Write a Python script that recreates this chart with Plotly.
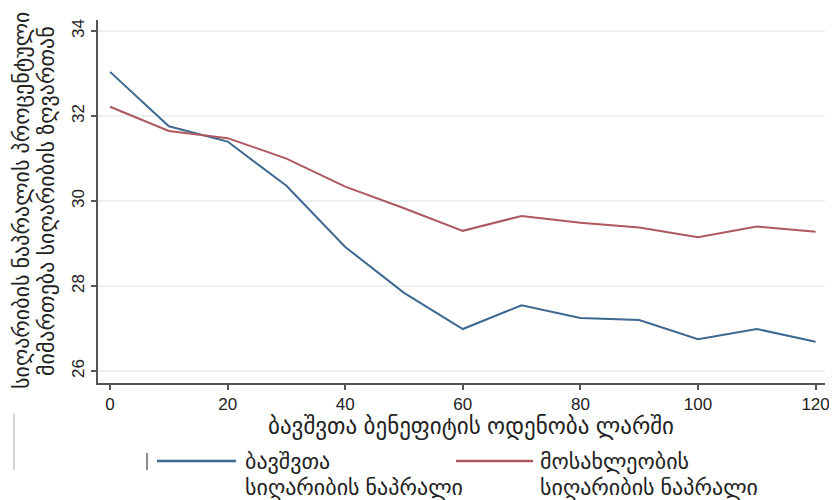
import plotly.graph_objects as go

# Data
benefit = [0, 10, 20, 30, 40, 50, 60, 70, 80, 90, 100, 110, 120]
child_gap = [33.04, 31.76, 31.40, 30.36, 28.92, 27.84, 26.99, 27.55, 27.25, 27.20, 26.75, 26.99, 26.69]
pop_gap = [32.22, 31.65, 31.48, 31.00, 30.34, 29.83, 29.30, 29.65, 29.49, 29.38, 29.15, 29.40, 29.28]
series_names = [["ბავშვთა", "სიღარიბის ნაპრალი"], ["მოსახლეობის", "სიღარიბის ნაპრალი"]]
x_title = "ბავშვთა ბენეფიტის ოდენობა ლარში"
y_title = ["სიღარიბის ნაპრალის პროცენტული", "მიმართება სიღარიბის ზღვართან"]
x_ticks = [0, 20, 40, 60, 80, 100, 120]
y_ticks = [26, 28, 30, 32, 34]

BLUE = "#3d6890"
RED = "#ad5860"
FONT = "Liberation Sans, DejaVu Sans, sans-serif"

OFF = 8  # page body margin
W, H = 837 - 2 * OFF, 500 - OFF
# plot area in page pixels
L, R, T, B = 98, 825, 20, 383


def px(x):
    return (x - L) / (R - L)


def py(y):
    return (B - y) / (B - T)


fig = go.Figure()
fig.add_trace(go.Scatter(x=benefit, y=child_gap, mode="lines",
                         line=dict(color=BLUE, width=2), showlegend=False))
fig.add_trace(go.Scatter(x=benefit, y=pop_gap, mode="lines",
                         line=dict(color=RED, width=2), showlegend=False))

shapes = []
annotations = []
# legend keys
for (x0, x1, col, tx, name) in [(157, 236, BLUE, 243, series_names[0]),
                                (456, 533, RED, 538, series_names[1])]:
    shapes.append(dict(type="line", xref="paper", yref="paper",
                       x0=px(x0), x1=px(x1), y0=py(461), y1=py(461),
                       line=dict(color=col, width=2.5)))
    for line_text, cy in zip(name, [461, 487]):
        annotations.append(dict(xref="paper", yref="paper", x=px(tx), y=py(cy),
                                xanchor="left", yanchor="middle", align="left",
                                text=line_text, showarrow=False,
                                font=dict(family=FONT, size=22, color="#222")))
# stray marks
shapes.append(dict(type="line", xref="paper", yref="paper",
                   x0=px(147), x1=px(147), y0=py(453), y1=py(470),
                   line=dict(color="#666", width=1.5)))
shapes.append(dict(type="line", xref="paper", yref="paper",
                   x0=px(14), x1=px(14), y0=py(413), y1=py(470),
                   line=dict(color="#c8c8c8", width=1.5)))

# y title (two lines)
for line_text, cx in zip(y_title, [21, 46]):
    annotations.append(dict(xref="paper", yref="paper", x=px(cx), y=py(201),
                            xanchor="center", yanchor="middle", textangle=-90,
                            text=line_text, showarrow=False,
                            font=dict(family=FONT, size=22, color="#222")))
# x title
annotations.append(dict(xref="paper", yref="paper", x=px(471), y=py(426),
                        xanchor="center", yanchor="middle",
                        text=x_title, showarrow=False,
                        font=dict(family=FONT, size=23, color="#222")))

fig.update_layout(
    width=W, height=H,
    margin=dict(l=L - OFF, r=W - (R - OFF), t=T - OFF, b=H - (B - OFF), pad=0),
    paper_bgcolor="white", plot_bgcolor="white",
    font=dict(family=FONT, size=17, color="#222"),
    shapes=shapes, annotations=annotations,
    xaxis=dict(range=[-2.05, 121.6], tickvals=x_ticks, showgrid=False,
               automargin=False, ticklabeloverflow="allow",
               zeroline=False, showline=True, linecolor="#555", linewidth=1.5,
               ticks="outside", ticklen=5, tickcolor="#555", tickwidth=1.5,
               tickfont=dict(family=FONT, size=17, color="#222")),
    yaxis=dict(range=[25.72, 34.26], tickvals=y_ticks, showgrid=True,
               automargin=False, ticklabeloverflow="allow",
               gridcolor="#e9f1f2", gridwidth=1.5, zeroline=False,
               showline=True, linecolor="#555", linewidth=1.5,
               ticks="outside", ticklen=5, tickcolor="#555", tickwidth=1.5,
               tickangle=-90,
               tickfont=dict(family=FONT, size=17, color="#222")),
)

fig.write_html("out.html")
